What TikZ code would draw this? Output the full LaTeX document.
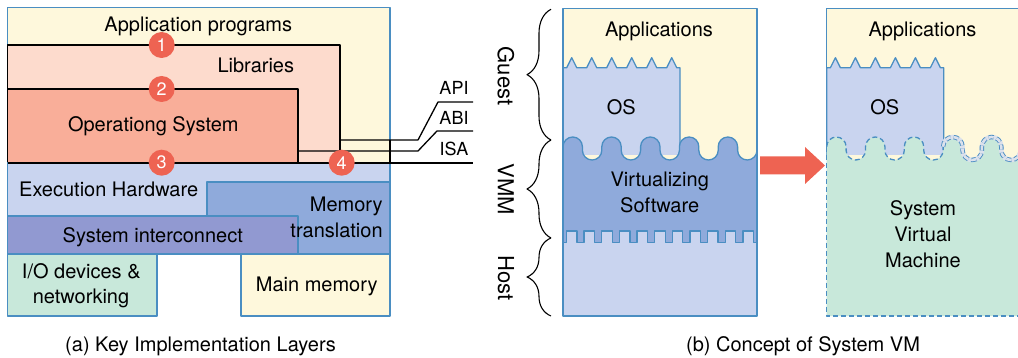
\documentclass[tikz,border=0pt]{standalone}
\usepackage{fontspec}
\setmainfont{TeX Gyre Heros}
\usetikzlibrary{decorations.pathreplacing}
\definecolor{appY}{HTML}{FEF8DC}
\definecolor{libP}{HTML}{FDDBCD}
\definecolor{osR}{HTML}{F9AE99}
\definecolor{hwB}{HTML}{C9D4EF}
\definecolor{mtB}{HTML}{8FAADB}
\definecolor{siB}{HTML}{9199D1}
\definecolor{ioG}{HTML}{C8E8DA}
\definecolor{edgeB}{HTML}{4A8EC2}
\definecolor{redC}{HTML}{EE6352}
\definecolor{ghost}{HTML}{DCE1EC}
\begin{document}
\begin{tikzpicture}[x=1pt,y=-1pt,line join=round,line width=1.3pt,
  txt/.style={inner sep=0pt,anchor=base,font=\fontsize{20}{24}\selectfont},
  sidetxt/.style={inner sep=0pt,rotate=-90,font=\fontsize{22}{26}\selectfont},
  itxt/.style={inner sep=0pt,anchor=base,font=\fontsize{18}{22}\selectfont},
  numcirc/.style={circle,fill=redC,text=white,minimum size=26pt,inner sep=0pt,
    font=\fontsize{18}{18}\selectfont},
  bluebox/.style={draw=edgeB},
  blackbox/.style={draw=black},
  dashline/.style={dash pattern=on 5pt off 3pt},
  bracestyle/.style={draw=black,line width=1.1pt,decorate,decoration={brace,amplitude=24pt}},
  wave/.style 2 args={insert path={
    \foreach \i [evaluate=\i as \X using #1+38.8*\i] in {0,...,#2}{
      .. controls (\X,141.34) and ({\X+4.34},137) .. ({\X+9.7},137)
      .. controls ({\X+15.06},137) and ({\X+19.4},141.34) .. ({\X+19.4},146.7)
      -- ({\X+19.4},150.3)
      .. controls ({\X+19.4},155.66) and ({\X+23.74},160) .. ({\X+29.1},160)
      .. controls ({\X+34.46},160) and ({\X+38.8},155.66) .. ({\X+38.8},150.3)
      -- ({\X+38.8},146.7)
    }}},
  teeth/.style={insert path={
    \foreach \i [evaluate=\i as \X using #1+17.636*\i] in {0,...,10}{
      -- ({\X+3.5},242.5) -- ({\X+3.5},231) -- ({\X+14},231) -- ({\X+14},242.5) -- ({\X+17.636},242.5)
    }}},
  zig/.style={insert path={
    \foreach \k [evaluate=\k as \X using #1+20*\k] in {0,...,5}{
      -- ({\X+3.7},67.7) -- ({\X+8.7},57.7) -- ({\X+13.7},67.7)
    }}}
]
\useasboundingbox (0,0) rectangle (1018,358);
% ---------------- panel (a) ----------------
\filldraw[fill=appY,bluebox] (7.5,7.5) rectangle (390,163);
\filldraw[fill=libP,blackbox] (7.5,45) rectangle (340,163);
\filldraw[fill=osR,blackbox] (7.5,89) rectangle (298,163);
\filldraw[fill=hwB,bluebox] (7.5,163) rectangle (390,254);
\filldraw[fill=mtB,bluebox] (207,182) rectangle (390,254);
\filldraw[fill=siB,bluebox] (7.5,216) rectangle (298,254);
\filldraw[fill=ioG,bluebox] (7.5,254) rectangle (157,316);
\filldraw[fill=appY,bluebox] (241,254) rectangle (390,316);
\coordinate (libCorner) at (340,140);
\coordinate (osCorner) at (298,151);
\coordinate (isaStart) at (7.5,163);
\coordinate (apiEnd) at (473,102);
\coordinate (abiEnd) at (473,131);
\coordinate (isaEnd) at (473,163);
\draw (libCorner) -- (418,140) -- (438,102) -- (apiEnd);
\draw (osCorner) -- (418,151) -- (437,131) -- (abiEnd);
\draw (isaStart) -- (isaEnd);
\draw (390,140) -- (390,163);
\node[itxt] (api) at (454,95) {API};
\node[itxt] (abi) at (454,125) {ABI};
\node[itxt] (isa) at (454,156) {ISA};
\node[txt] (apptext) at (198.3,31.7) {Application programs};
\node[txt] (libtext) at (255.8,72.7) {Libraries};
\node[txt] (ostext) at (153.3,131.7) {Operationg System};
\node[txt] (hwtext) at (108.7,196.7) {Execution Hardware};
\node[txt,anchor=base east] (mt1) at (383.3,211.7) {Memory};
\node[txt,anchor=base east] (mt2) at (383.3,237.3) {translation};
\node[txt] (sitext) at (152.8,242.3) {System interconnect};
\node[txt] (io1) at (81.3,278.3) {I/O devices \&};
\node[txt] (io2) at (81,303.7) {networking};
\node[txt] (mmtext) at (316.7,291.7) {Main memory};
\node[numcirc] (c1) at (161.7,45) {1};
\node[numcirc] (c2) at (161.7,89) {2};
\node[numcirc] (c3) at (161.7,162.7) {3};
\node[numcirc] (c4) at (341.7,162.7) {4};
\node[txt] (capa) at (200.5,352) {(a) Key Implementation Layers};
% ---------------- panel (b), left ----------------
\draw[bracestyle] (551,140) -- (551,9.3);
\draw[bracestyle] (551,238) -- (551,140);
\draw[bracestyle] (551,316) -- (551,238);
\node[sidetxt] (guest) at (506,76) {Guest};
\node[sidetxt] (vmm) at (506,189) {VMM};
\node[sidetxt] (host) at (506,278) {Host};
\fill[appY] (563,8.3) rectangle (757,316);
\filldraw[fill=hwB,bluebox] (563,155) -- (563,67.7) [zig=563] -- (680,67.7) -- (680,155);
\fill[mtB] (563,316) -- (563,146.7) [wave={563}{4}] -- (757,316) -- cycle;
\draw[bluebox] (563,146.7) [wave={563}{4}];
\fill[hwB] (563,316) -- (563,242.5) [teeth=563] -- (757,316) -- cycle;
\draw[bluebox] (563,242.5) [teeth=563];
\draw[bluebox] (563,8.3) rectangle (757,316);
\node[txt] (apps1) at (659,36.7) {Applications};
\node[txt] (os1) at (621.3,114.3) {OS};
\node[txt] (vs1) at (659.7,186.7) {Virtualizing};
\node[txt] (vs2) at (659.7,212.3) {Software};
% ---------------- arrow ----------------
\fill[redC] (760,156.5) -- (805,156.5) -- (805,147) -- (825,165.5) -- (805,184) -- (805,174.5) -- (760,174.5) -- cycle;
% ---------------- panel (b), right ----------------
\fill[appY] (826.7,8.3) rectangle (1020.7,316);
\filldraw[fill=hwB,bluebox] (826.7,155) -- (826.7,67.7) [zig=826.7] -- (943.7,67.7) -- (943.7,155);
\fill[ioG] (826.7,316) -- (826.7,146.7) [wave={826.7}{4}] -- (1020.7,316) -- cycle;
\draw[bluebox,dashline] (826.7,146.7) [wave={826.7}{2}];
\draw[ghost,line width=4.6pt] (943.1,146.7) [wave={943.1}{1}];
\draw[bluebox,dashline,line width=0.9pt,double=ghost,double distance=2.6pt] (943.1,146.7) [wave={943.1}{1}];
\draw[bluebox] (826.7,146.7) -- (826.7,8.3) -- (1020.7,8.3);
\draw[bluebox,dashline] (826.7,146.7) -- (826.7,316) -- (1020.7,316);
\node[txt] (apps2) at (922.5,36.7) {Applications};
\node[txt] (os2) at (884.7,114.3) {OS};
\node[txt] (svm1) at (923,216) {System};
\node[txt] (svm2) at (923,241.7) {Virtual};
\node[txt] (svm3) at (923,267.3) {Machine};
\node[txt] (capb) at (803,352) {(b) Concept of System VM};
\end{tikzpicture}
\end{document}
